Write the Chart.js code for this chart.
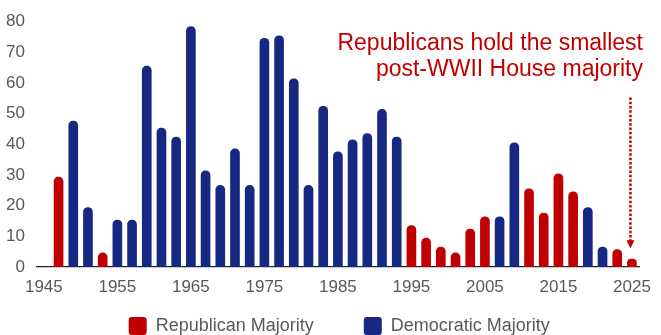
<!DOCTYPE html>
<html>
<head>
<meta charset="utf-8">
<script src="https://cdn.jsdelivr.net/npm/chart.js@4.4.1/dist/chart.umd.min.js"></script>
<style>
  html, body { margin: 0; padding: 0; background: #ffffff; }
  #wrap { width: 661px; height: 335px; position: relative; }
</style>
</head>
<body>
<div id="wrap"><canvas id="c"></canvas></div>
<script>
// Congress start years (1945 is an empty leading slot on the axis)
const years = ['1945','1947','1949','1951','1953','1955','1957','1959','1961','1963',
  '1965','1967','1969','1971','1973','1975','1977','1979','1981','1983',
  '1985','1987','1989','1991','1993','1995','1997','1999','2001','2003',
  '2005','2007','2009','2011','2013','2015','2017','2019','2021','2023','2025'];

// House majority size (seats) by party in control
const republicanMajority = [null, 29.3, null, null, 4.6, null, null, null, null, null,
  null, null, null, null, null, null, null, null, null, null,
  null, null, null, null, null, 13.5, 9.4, 6.5, 4.6, 12.4,
  16.4, null, null, 25.5, 17.6, 30.4, 24.5, null, null, 5.7, 2.6];

const democraticMajority = [null, null, 47.6, 19.4, null, 15.3, 15.3, 65.5, 45.3, 42.4,
  78.4, 31.4, 26.6, 38.5, 26.6, 74.6, 75.4, 61.4, 26.6, 52.4,
  37.6, 41.5, 43.5, 51.4, 42.4, null, null, null, null, null,
  null, 16.4, 40.5, null, null, null, null, 19.4, 6.5, null, null];

const xTickLabels = ['1945','1955','1965','1975','1985','1995','2005','2015','2025'];
const yTicks = [0, 10, 20, 30, 40, 50, 60, 70, 80];
const annotationLines = ['Republicans hold the smallest', 'post-WWII House majority'];

const RED = '#C00000';
const BLUE = '#172883';
const GREY = '#595959';
const FONT = "'Liberation Sans', Arial, sans-serif";

const annotationPlugin = {
  id: 'annotationNote',
  afterDraw(chart, args, opts) {
    const ctx = chart.ctx;
    const xs = chart.scales.x, ys = chart.scales.y;
    ctx.save();
    ctx.fillStyle = RED;
    ctx.font = '23px ' + FONT;
    ctx.textAlign = 'right';
    ctx.textBaseline = 'alphabetic';
    annotationLines.forEach((t, i) => ctx.fillText(t, opts.textX, opts.textY + i * opts.lineGap));
    // dotted arrow pointing to the latest majority
    const ax = xs.getPixelForValue(years.length - 1) - 1.5;
    const yTop = ys.getPixelForValue(opts.arrowFrom);
    const yTip = ys.getPixelForValue(opts.arrowTo);
    ctx.strokeStyle = RED;
    ctx.lineWidth = 2.5;
    ctx.setLineDash([2.5, 1.8]);
    ctx.beginPath();
    ctx.moveTo(ax, yTop);
    ctx.lineTo(ax, yTip - 6);
    ctx.stroke();
    ctx.setLineDash([]);
    ctx.beginPath();
    ctx.moveTo(ax - 4, yTip - 8);
    ctx.lineTo(ax + 4, yTip - 8);
    ctx.lineTo(ax, yTip);
    ctx.closePath();
    ctx.fill();
    ctx.restore();
  }
};

// tick labels sit outside the (deliberately thin) axis boxes, so do not clip them
const noLabelClip = (s) => { s._computeLabelArea = () => undefined; };

new Chart(document.getElementById('c'), {
  type: 'bar',
  data: {
    labels: years,
    datasets: [
      { label: 'Republican Majority', data: republicanMajority, backgroundColor: RED,
        borderWidth: 0, borderRadius: 4.5, borderSkipped: 'start', barThickness: 9 },
      { label: 'Democratic Majority', data: democraticMajority, backgroundColor: BLUE,
        borderWidth: 0, borderRadius: 4.5, borderSkipped: 'start', barThickness: 9 }
    ]
  },
  options: {
    responsive: true,
    maintainAspectRatio: false,
    animation: false,
    layout: { padding: { left: 30, right: 12.5, top: 14, bottom: -10 } },
    plugins: {
      tooltip: { enabled: false },
      legend: {
        position: 'bottom',
        labels: {
          boxWidth: 18, boxHeight: 18, useBorderRadius: true, borderRadius: 3,
          padding: 50, color: GREY, font: { family: FONT, size: 18 }
        }
      },
      annotationNote: { textX: 643, textY: 49.5, lineGap: 26.5, arrowFrom: 55.3, arrowTo: 6.1 }
    },
    scales: {
      x: {
        stacked: true,
        grid: { display: false, drawTicks: false },
        border: { display: true, color: '#222222', width: 1.2 },
        ticks: {
          autoSkip: false, maxRotation: 0, padding: 10, color: GREY,
          font: { family: FONT, size: 17 },
          callback: function(v, i) { const l = years[i]; return xTickLabels.includes(l) ? l : ''; }
        },
        afterFit: (s) => { s.height = 0; noLabelClip(s); }
      },
      y: {
        stacked: true,
        min: 0, max: 80,
        grid: { display: false, drawTicks: false },
        border: { display: false },
        afterBuildTicks: (s) => { s.ticks = yTicks.map(v => ({ value: v })); },
        ticks: { padding: 11.5, color: GREY, font: { family: FONT, size: 17 } },
        afterFit: (s) => { s.width = 6.5; noLabelClip(s); }
      }
    }
  },
  plugins: [annotationPlugin]
});
</script>
</body>
</html>
